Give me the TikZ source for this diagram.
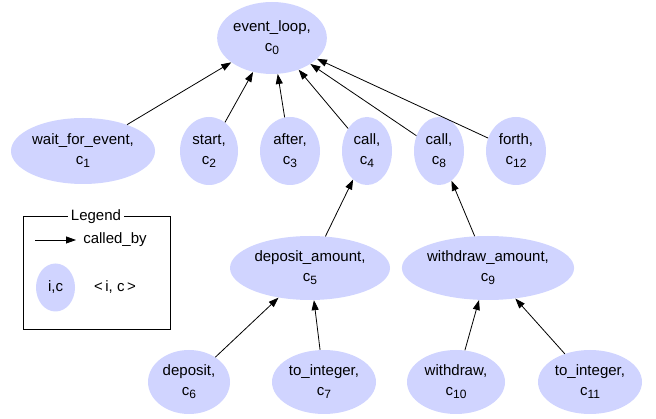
\documentclass[tikz,border=0pt]{standalone}
\usepackage{fontspec}
\setmainfont{Liberation Sans}
\usetikzlibrary{shapes.geometric,arrows.meta}
\definecolor{nodefill}{RGB}{208,212,255}
\newcommand\csub[1]{c\raisebox{-3pt}{\fontsize{12}{12}\selectfont #1}}
\begin{document}
\begin{tikzpicture}[x=1pt,y=-1pt,
  every node/.style={font=\fontsize{15}{20}\selectfont},
  fn/.style={ellipse,fill=nodefill,draw=none,inner sep=0pt,align=center},
  callarrow/.style={-{Triangle[length=10pt,width=7pt]},line width=0.8pt}]
\useasboundingbox (0,0) rectangle (656,419);
\node[fn,minimum width=100pt,minimum height=72pt] (el) at (272,38) {event\_loop,\\\csub{0}};
\node[fn,minimum width=144pt,minimum height=66pt] (wfe) at (83,151) {wait\_for\_event,\\\csub{1}};
\node[fn,minimum width=58pt,minimum height=68pt] (st) at (209,151) {start,\\\csub{2}};
\node[fn,minimum width=60pt,minimum height=68pt] (af) at (290,151) {after,\\\csub{3}};
\node[fn,minimum width=50pt,minimum height=68pt] (c4) at (367,151) {call,\\\csub{4}};
\node[fn,minimum width=50pt,minimum height=68pt] (c8) at (439,151) {call,\\\csub{8}};
\node[fn,minimum width=60pt,minimum height=68pt] (fo) at (516,151) {forth,\\\csub{12}};
\node[fn,minimum width=160pt,minimum height=64pt] (da) at (310,268) {deposit\_amount,\\\csub{5}};
\node[fn,minimum width=166pt,minimum height=64pt] (wa) at (488,268) {withdraw\_amount,\\\csub{9}};
\node[fn,minimum width=82pt,minimum height=64pt] (dep) at (189,382) {deposit,\\\csub{6}};
\node[fn,minimum width=104pt,minimum height=64pt] (ti7) at (324,382) {to\_integer,\\\csub{7}};
\node[fn,minimum width=98pt,minimum height=64pt] (wd) at (456,382) {withdraw,\\\csub{10}};
\node[fn,minimum width=104pt,minimum height=64pt] (ti11) at (590,382) {to\_integer,\\\csub{11}};
\foreach \a/\b in {wfe/el,st/el,af/el,c4/el,c8/el,fo/el,da/c4,wa/c8,dep/da,ti7/da,wd/wa,ti11/wa}
  \draw[callarrow] (\a) -- (\b);
% legend
\node[draw,line width=0.8pt,minimum width=147pt,minimum height=113pt,inner sep=0pt] (lg) at (96.5,272.5) {};
\node[fill=white,inner sep=3pt] (lgt) at (96,217) {Legend};
\coordinate (la) at (35,240);
\coordinate (lb) at (76,240);
\draw[callarrow] (la) -- (lb);
\node (lcb) at (115,240) {called\_by};
\node[fn,minimum width=39pt,minimum height=48pt] (lic) at (55.5,287.5) {i,c};
\node (lt) at (115,287.5) {<\,i, c\,>};
\end{tikzpicture}
\end{document}
